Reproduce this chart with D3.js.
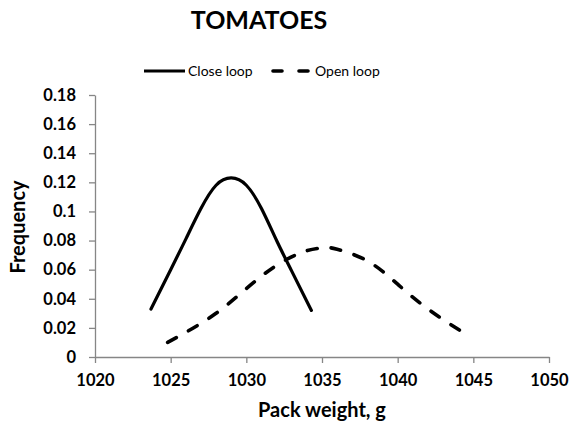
<!DOCTYPE html>
<html>
<head>
<meta charset="utf-8">
<script src="https://cdn.jsdelivr.net/npm/d3@7"></script>
<style>
  body { margin: 0; background: #fff; }
  svg text { font-family: Lato, "Open Sans", sans-serif; fill: #000; }
</style>
</head>
<body>
<div id="chart"></div>
<script>
// data
var closeWeight = [1023.7, 1025, 1026, 1027, 1028, 1029, 1030, 1031, 1032, 1033, 1034.3];
var closeFreq   = [0.033, 0.060, 0.081, 0.102, 0.118, 0.123, 0.118, 0.102, 0.080, 0.059, 0.032];
var openWeight  = [1024.8, 1026, 1028, 1030, 1032, 1034, 1035.3, 1036, 1038, 1040, 1042, 1044.3];
var openFreq    = [0.010, 0.017, 0.030, 0.047, 0.063, 0.073, 0.075, 0.074, 0.066, 0.050, 0.033, 0.017];
var xTicks = [1020, 1025, 1030, 1035, 1040, 1045, 1050];
var yTicks = [0, 0.02, 0.04, 0.06, 0.08, 0.1, 0.12, 0.14, 0.16, 0.18];
var seriesNames = ["Close loop", "Open loop"];

(function() {
    var W = 574, H = 423;
    var plotLeft = 95, plotRight = 549, plotTop = 95, plotBottom = 357;

    var svg = d3.select("#chart").append("svg")
        .attr("width", W)
        .attr("height", H);

    var x = d3.scaleLinear().domain([1020, 1050]).range([plotLeft, plotRight]);
    var y = d3.scaleLinear().domain([0, 0.18]).range([plotBottom, plotTop]);

    // title
    svg.append("text")
        .attr("x", 259).attr("y", 29)
        .attr("text-anchor", "middle")
        .style("font-size", "25px").style("font-weight", "bold")
        .text("TOMATOES");

    // axes
    var xAxis = svg.append("g")
        .attr("transform", "translate(0," + plotBottom + ")")
        .call(d3.axisBottom(x).tickValues(xTicks).tickSizeInner(6).tickSizeOuter(0).tickPadding(11).tickFormat(d3.format("d")));
    var yAxis = svg.append("g")
        .attr("transform", "translate(" + plotLeft + ",0)")
        .call(d3.axisLeft(y).tickValues(yTicks).tickSizeInner(6).tickSizeOuter(0).tickPadding(13)
            .tickFormat(function(d) { return String(+d.toFixed(2)); }));

    [xAxis, yAxis].forEach(function(g) {
        g.selectAll("path, line").attr("stroke", "#868686").attr("stroke-width", 1.3);
        g.selectAll("text").style("font-size", "16.5px").style("font-weight", "bold")
            .style("font-family", "Lato, sans-serif").attr("fill", "#000");
    });

    // axis titles
    svg.append("text")
        .attr("x", 322).attr("y", 417)
        .attr("text-anchor", "middle")
        .style("font-size", "20px").style("font-weight", "bold")
        .text("Pack weight, g");
    svg.append("text")
        .attr("transform", "translate(25,227) rotate(-90)")
        .attr("text-anchor", "middle")
        .style("font-size", "20px").style("font-weight", "bold")
        .text("Frequency");

    // curves
    var line = d3.line()
        .x(function(d) { return x(d[0]); })
        .y(function(d) { return y(d[1]); })
        .curve(d3.curveNatural);

    svg.append("path")
        .datum(d3.zip(closeWeight, closeFreq))
        .attr("d", line)
        .attr("fill", "none").attr("stroke", "#000")
        .attr("stroke-width", 3.2).attr("stroke-linecap", "round");

    svg.append("path")
        .datum(d3.zip(openWeight, openFreq))
        .attr("d", line)
        .attr("fill", "none").attr("stroke", "#000")
        .attr("stroke-width", 3.6).attr("stroke-linecap", "round")
        .attr("stroke-dasharray", "10,14");

    // legend
    var legend = svg.append("g");
    legend.append("line")
        .attr("x1", 144).attr("x2", 185).attr("y1", 71).attr("y2", 71)
        .attr("stroke", "#000").attr("stroke-width", 3.2);
    legend.append("text")
        .attr("x", 188).attr("y", 76)
        .style("font-size", "14px")
        .text(seriesNames[0]);
    legend.append("line")
        .attr("x1", 273).attr("x2", 312).attr("y1", 71).attr("y2", 71)
        .attr("stroke", "#000").attr("stroke-width", 3.6)
        .attr("stroke-linecap", "round").attr("stroke-dasharray", "9,17");
    legend.append("text")
        .attr("x", 315).attr("y", 76)
        .style("font-size", "14px")
        .text(seriesNames[1]);
})();
</script>
</body>
</html>
